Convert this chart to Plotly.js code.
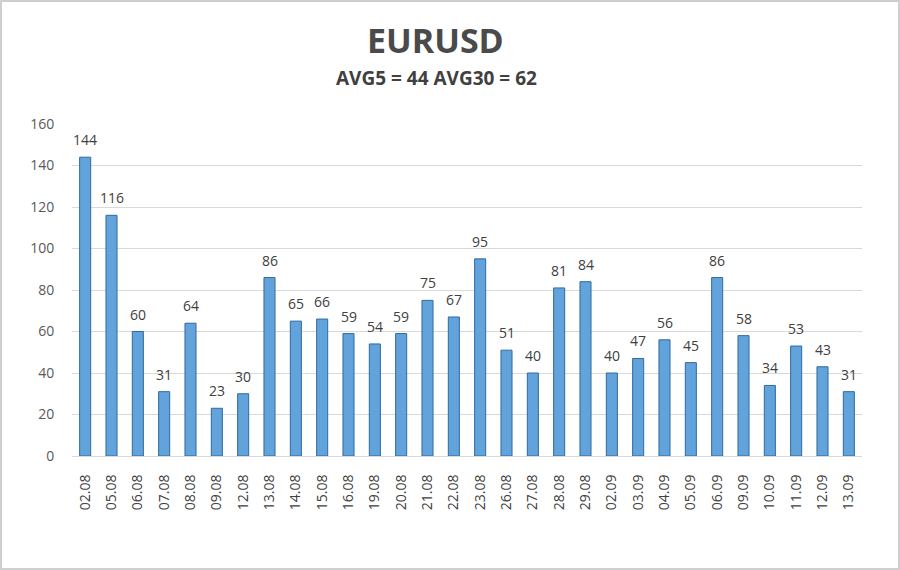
<!DOCTYPE html>
<html>
<head>
<meta charset="utf-8">
<script src="https://cdn.plot.ly/plotly-3.0.1.min.js"></script>
<style>
html,body{margin:0;padding:0;background:#fff;}
#wrap{position:relative;width:900px;height:570px;}
#chart{width:900px;height:570px;}
#frame{position:absolute;left:0;top:0;width:900px;height:570px;box-sizing:border-box;border:2px solid #cfcfcf;pointer-events:none;}
</style>
</head>
<body>
<div id="wrap"><div id="chart"></div><div id="frame"></div></div>
<script>
const dates = ["02.08","05.08","06.08","07.08","08.08","09.08","12.08","13.08","14.08","15.08","16.08","19.08","20.08","21.08","22.08","23.08","26.08","27.08","28.08","29.08","02.09","03.09","04.09","05.09","06.09","09.09","10.09","11.09","12.09","13.09"];
const values = [144,116,60,31,64,23,30,86,65,66,59,54,59,75,67,95,51,40,81,84,40,47,56,45,86,58,34,53,43,31];
const yTicks = [0,20,40,60,80,100,120,140,160];
const chartTitle = "EURUSD";
const chartSubtitle = "AVG5 = 44 AVG30 = 62";

const trace = {
  type: 'bar',
  x: dates,
  y: values,
  marker: {color: '#62a3dc', line: {color: '#2f6a9f', width: 1}},
  hoverinfo: 'x+y'
};

const valueLabels = dates.map((d, i) => ({
  x: i, y: values[i], xref: 'x', yref: 'y',
  text: String(values[i]), showarrow: false,
  xanchor: 'center', yanchor: 'bottom', yshift: 6,
  font: {family: 'Open Sans, sans-serif', size: 14, color: '#404040'}
}));

const layout = {
  width: 900, height: 570,
  margin: {l: 72, r: 38, t: 124, b: 114},
  paper_bgcolor: '#ffffff',
  plot_bgcolor: '#ffffff',
  bargap: 0.58,
  showlegend: false,
  font: {family: 'Open Sans, sans-serif', color: '#595959'},
  xaxis: {
    type: 'category',
    range: [-0.5, dates.length - 0.5],
    tickangle: -90,
    tickfont: {size: 14, color: '#404040'},
    showgrid: false,
    showline: true,
    linecolor: '#d9d9d9',
    linewidth: 1,
    ticks: 'outside', ticklen: 12, tickcolor: 'rgba(0,0,0,0)',
    fixedrange: true
  },
  yaxis: {
    range: [0, 160],
    tickvals: yTicks,
    ticktext: yTicks.map(String),
    tickfont: {size: 14, color: '#595959'},
    showgrid: true,
    gridcolor: '#d9d9d9',
    gridwidth: 1,
    zeroline: false,
    showline: false,
    ticks: 'outside', ticklen: 14, tickcolor: 'rgba(0,0,0,0)',
    fixedrange: true
  },
  annotations: valueLabels.concat([
    {text: '<b>' + chartTitle + '</b>', xref: 'paper', yref: 'paper',
     x: (435 - 72) / 790, y: (456 - 40) / 332, xanchor: 'center', yanchor: 'middle',
     showarrow: false, font: {family: 'Open Sans, sans-serif', size: 34, color: '#4a4a4a'}},
    {text: '<b>' + chartSubtitle + '</b>', xref: 'paper', yref: 'paper',
     x: (436 - 72) / 790, y: (456 - 78) / 332, xanchor: 'center', yanchor: 'middle',
     showarrow: false, font: {family: 'Open Sans, sans-serif', size: 19, color: '#404040'}}
  ])
};

Plotly.newPlot('chart', [trace], layout, {displayModeBar: false, staticPlot: true});
</script>
</body>
</html>
